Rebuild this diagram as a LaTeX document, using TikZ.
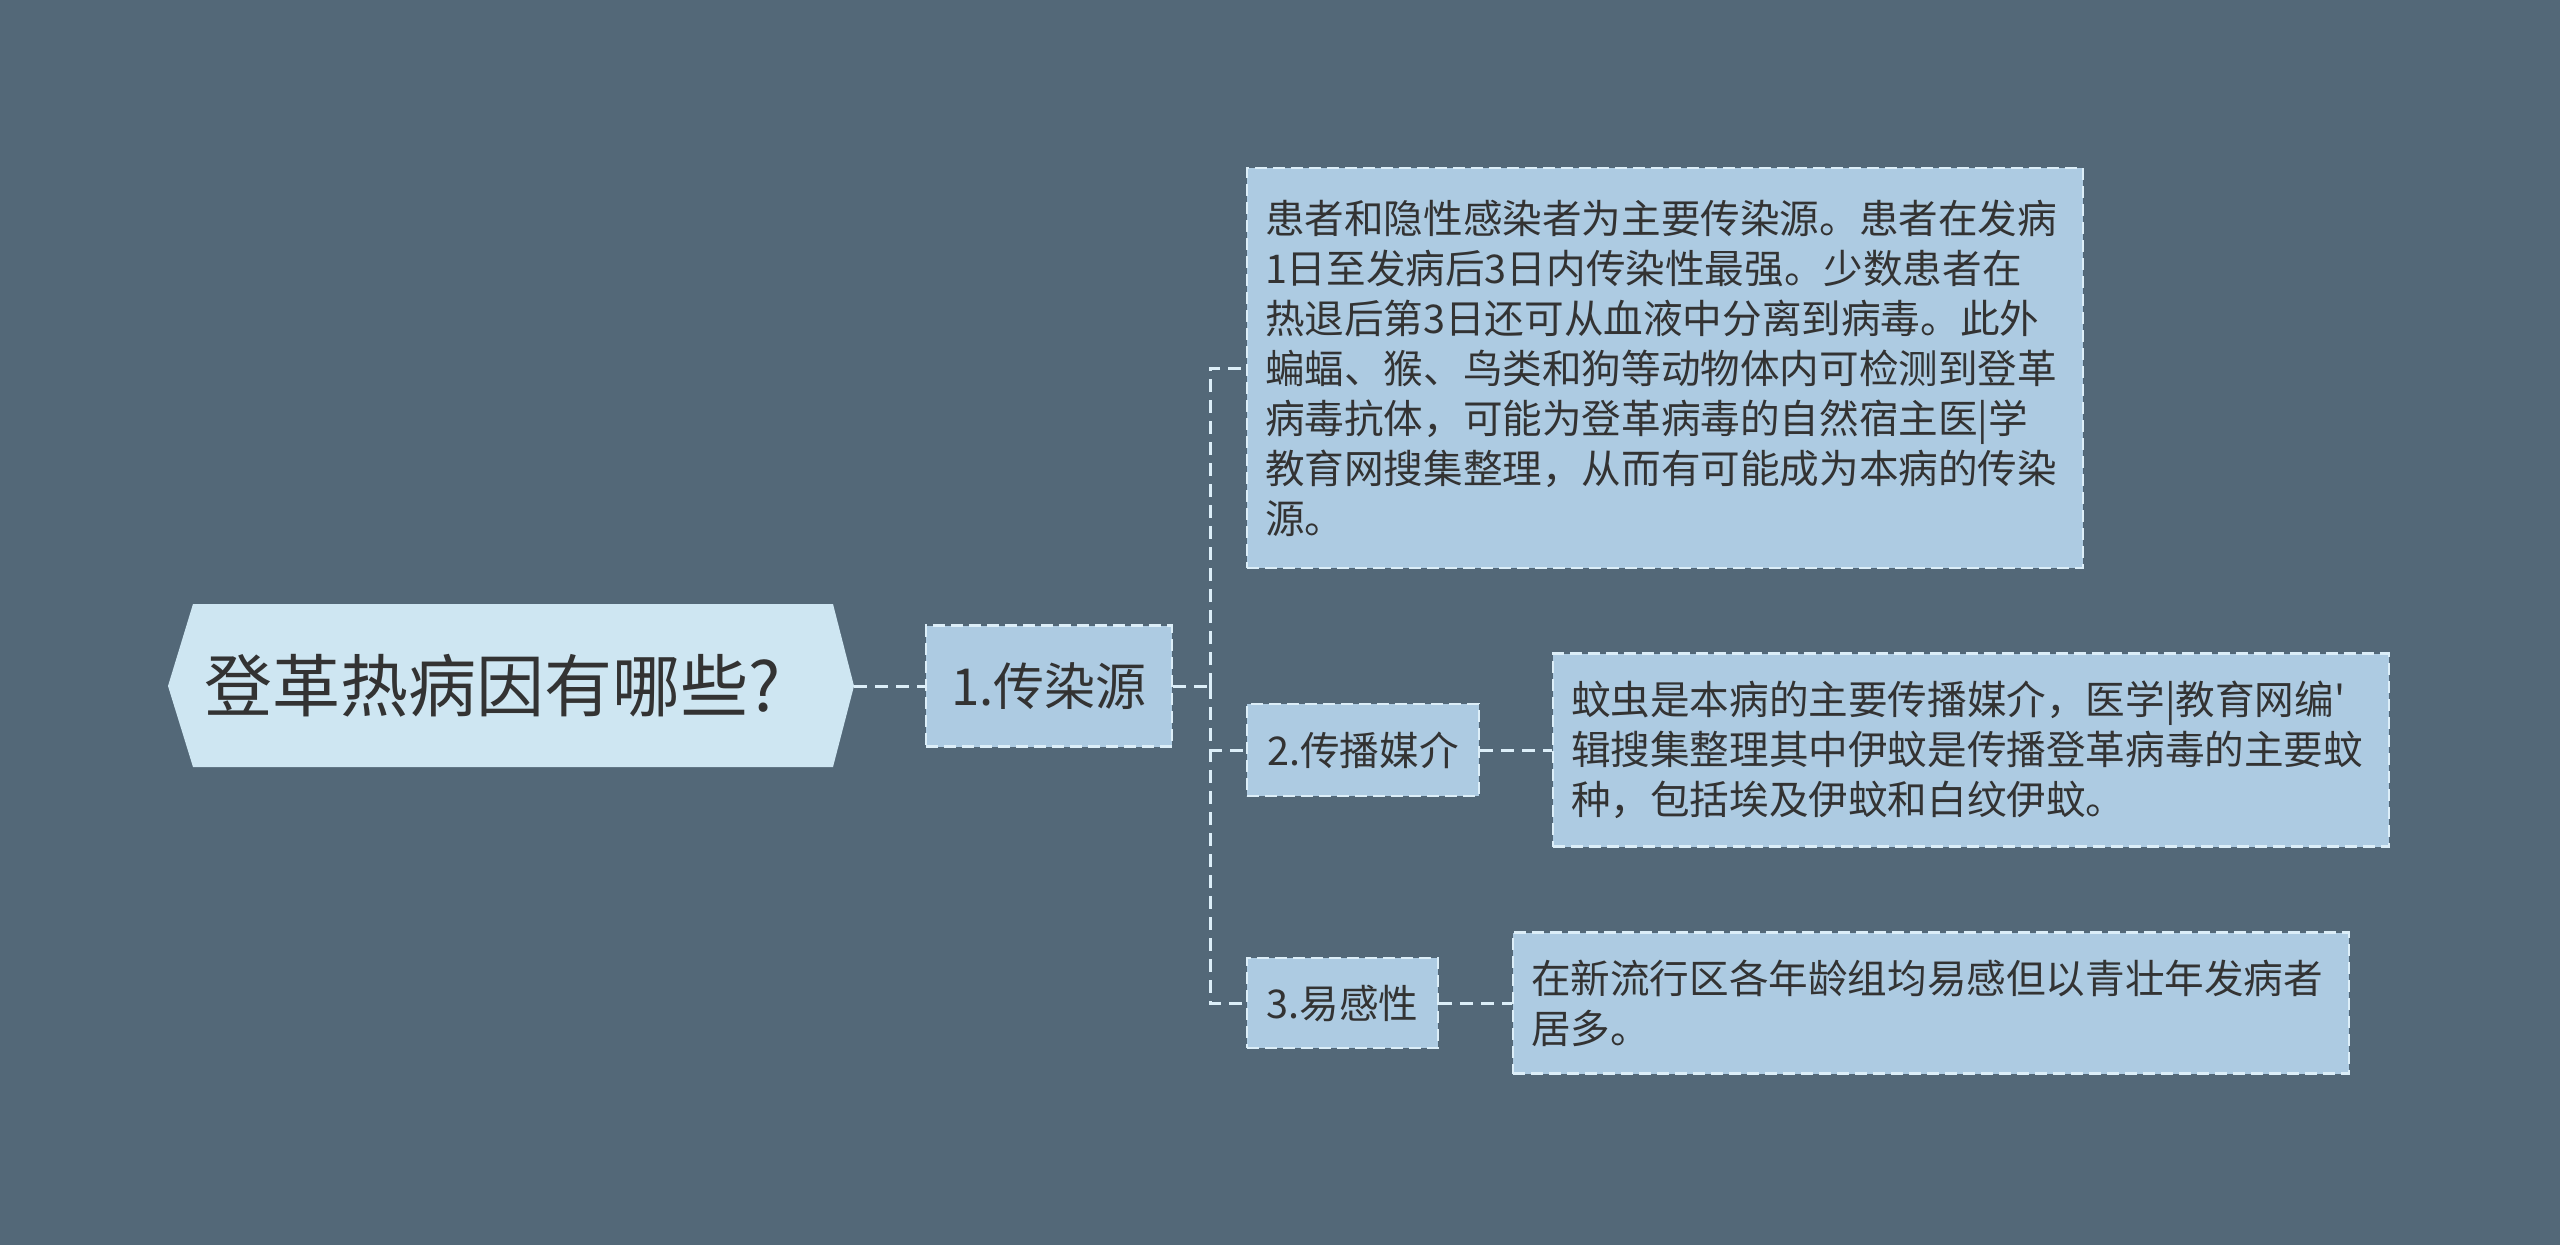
\documentclass[tikz,border=0pt]{standalone}
\usepackage{fontspec}
\newfontfamily\cjk{Noto Sans CJK SC}
\definecolor{bg}{HTML}{536878}
\definecolor{rootfill}{HTML}{CEE6F2}
\definecolor{nodefill}{HTML}{ADCBE2}
\definecolor{edgecol}{HTML}{DCEEF8}
\definecolor{ink}{HTML}{333333}
\begin{document}
\begin{tikzpicture}[x=1pt,y=-1pt,
  box/.style={draw=edgecol, line width=2.5pt, dash pattern=on 12pt off 6pt, fill=nodefill, text=ink, inner sep=0pt},
  label/.style={box, font=\cjk\fontsize{39.6}{50}\selectfont},
  body/.style={box, font=\cjk\fontsize{39.6}{50}\selectfont, align=left, text width=800pt, minimum width=836pt},
  conn/.style={draw=edgecol, line width=3pt, dash pattern=on 13pt off 8pt}]
\fill[bg] (0,0) rectangle (2560,1245);
\useasboundingbox (0,0) rectangle (2560,1245);
% root hexagon
\fill[rootfill] (168,686) -- (193,604) -- (833,604) -- (854,686) -- (833,767) -- (193,767) -- cycle;
\node[font=\cjk\fontsize{68}{72}\selectfont, text=ink, minimum width=686pt, minimum height=163pt,
      text width=614pt, align=left, inner sep=0pt] (root) at (511,686) {登革热病因有哪些?};
% level 1
\node[box, font=\cjk\fontsize{51}{56}\selectfont, minimum width=246pt, minimum height=121pt] (n1) at (1049,686) {1.传染源};
% level 2
\node[body, minimum height=400pt] (c1) at (1665,368) {患者和隐性感染者为主要传染源。患者在发病\\1日至发病后3日内传染性最强。少数患者在\\热退后第3日还可从血液中分离到病毒。此外\\蝙蝠、猴、鸟类和狗等动物体内可检测到登革\\病毒抗体，可能为登革病毒的自然宿主医|学\\教育网搜集整理，从而有可能成为本病的传染\\源。};
\node[label, minimum width=232pt, minimum height=92pt] (n2) at (1363,750) {2.传播媒介};
\node[label, minimum width=191pt, minimum height=90pt] (n3) at (1342.5,1003) {3.易感性};
% level 3
\node[body, minimum height=193pt] (t2) at (1971,750) {蚊虫是本病的主要传播媒介，医学|教育网编'\\辑搜集整理其中伊蚊是传播登革病毒的主要蚊\\种，包括埃及伊蚊和白纹伊蚊。};
\node[body, minimum height=141pt] (t3) at (1931,1003) {在新流行区各年龄组均易感但以青壮年发病者\\居多。};
% connectors
\coordinate (j) at (1210,686);
\draw[conn] (root.east) -- (n1.west);
\draw[conn] (n1.east) -- (j);
\draw[conn] (j) |- (c1.west);
\draw[conn] (j) |- (n2.west);
\draw[conn] (j) |- (n3.west);
\draw[conn] (n2.east) -- (t2.west);
\draw[conn] (n3.east) -- (t3.west);
\end{tikzpicture}
\end{document}
